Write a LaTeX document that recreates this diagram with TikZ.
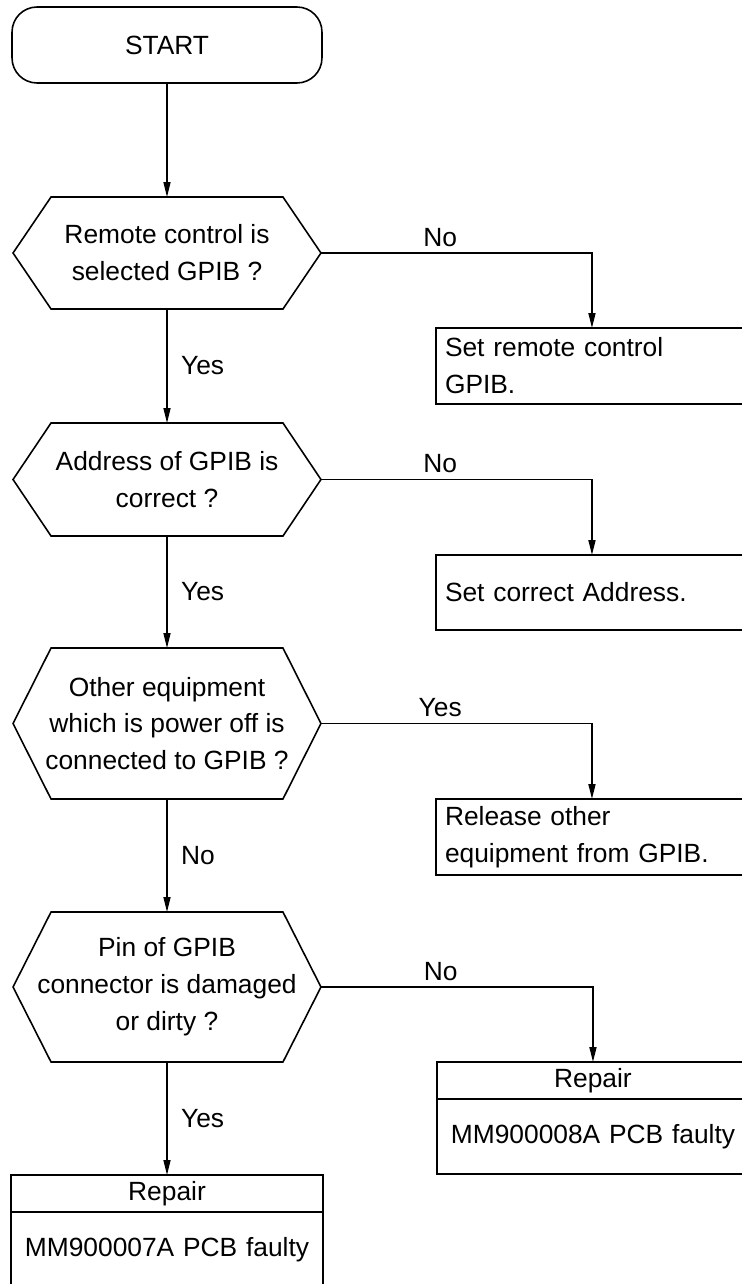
\documentclass[tikz,border=0pt]{standalone}
\usepackage{fontspec}
\setmainfont{Liberation Sans}
\usetikzlibrary{positioning,arrows.meta}

\tikzset{
    terminal/.style={draw, rectangle, rounded corners=0.5cm, minimum width=6.2cm, minimum height=1.52cm, outer sep=0pt},
    decision/.style={align=center, minimum width=6.16cm, outer sep=0pt},
    action/.style={draw, anchor=west, text width=5.88cm, inner xsep=0.18cm, align=left, minimum height=1.52cm, outer sep=0pt},
    repairhead/.style={draw, text width=5.88cm, inner xsep=0.18cm, align=center, minimum height=0.74cm, outer sep=0pt},
    repairbody/.style={repairhead, minimum height=1.5cm},
    flow/.style={-{Triangle[length=0.3cm,width=0.14cm]}}
}

\begin{document}
\begin{tikzpicture}[x=0.02cm, y=-0.02cm, line width=0.9pt, font=\fontsize{15pt}{21pt}\selectfont]
        \useasboundingbox (0,0) rectangle (742,1284);
        \clip (0,0) rectangle (742,1284);

        % Start
        \node[terminal] (start) at (167,45) {START};

        % Checks
        \node[decision, minimum height=2.24cm] (remote) at (167,253) {Remote control is\\selected GPIB ?};
        \node[decision, minimum height=2.26cm] (address) at (167,479.5) {Address of GPIB is\\correct ?};
        \node[decision, minimum height=3.02cm] (other) at (167,723.5) {Other equipment\\which is power off is\\connected to GPIB ?};
        \node[decision, minimum height=3.0cm] (pin) at (167,987) {Pin of GPIB\\connector is damaged\\or dirty ?};
        \foreach \n in {remote,address,other,pin} {
            \draw (\n.west) -- ([xshift=0.76cm]\n.north west) -- ([xshift=-0.76cm]\n.north east)
                -- (\n.east) -- ([xshift=-0.76cm]\n.south east) -- ([xshift=0.76cm]\n.south west) -- cycle;
        }

        % Actions
        \node[action] (setremote) at (436,366) {Set remote control\\GPIB.};
        \node[action, minimum height=1.5cm] (setaddress) at (436,592.5) {Set correct Address.};
        \node[action] (release) at (436,837) {Release other\\equipment from GPIB.};

        % Repairs
        \node[repairhead, anchor=north west] (repair8) at (437,1062) {Repair};
        \node[repairbody, below=0pt of repair8] (pcb8) {MM900008A PCB faulty};
        \node[repairhead, anchor=north] (repair7) at (167,1175) {Repair};
        \node[repairbody, below=0pt of repair7] (pcb7) {MM900007A PCB faulty};

        % Flow
        \draw[flow] (start.south) -- (remote.north);
        \draw[flow] (remote.south) -- node[right=0.15cm] (yes1) {Yes} (address.north);
        \draw[flow] (address.south) -- node[right=0.15cm] (yes2) {Yes} (other.north);
        \draw[flow] (other.south) -- node[right=0.15cm] (no3) {No} (pin.north);
        \draw[flow] (pin.south) -- node[right=0.15cm] (yes4) {Yes} (repair7.north);
        \draw[flow] (remote.east) -| node[pos=0.22, above] (no1) {No} (setremote.north);
        \draw[flow] (address.east) -| node[pos=0.22, above] (no2) {No} (setaddress.north);
        \draw[flow] (other.east) -| node[pos=0.22, above] (yes3) {Yes} (release.north);
        \draw[flow] (pin.east) -| node[pos=0.22, above] (no4) {No} (repair8.north);
    \end{tikzpicture}
\end{document}
